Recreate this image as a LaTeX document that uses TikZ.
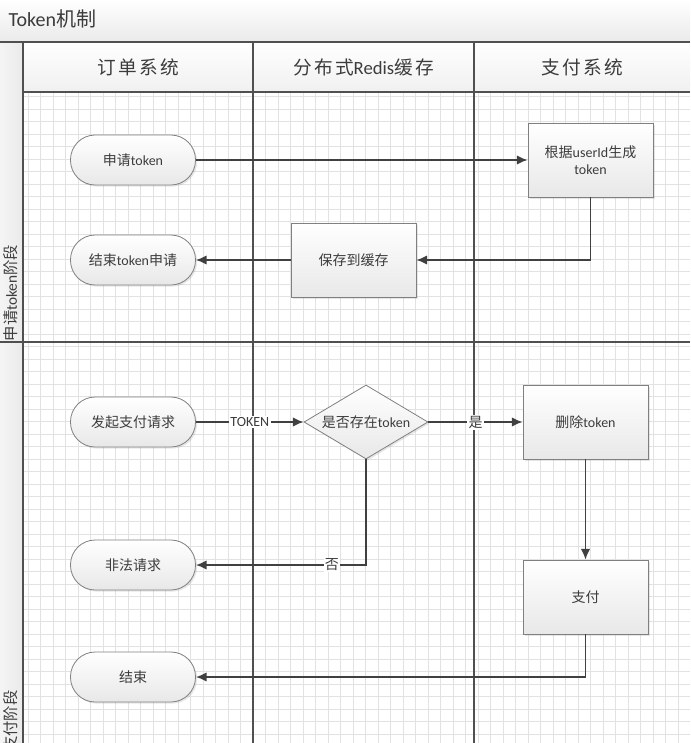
\documentclass[tikz,border=0pt]{standalone}
\usepackage{fontspec}
\setmainfont{Carlito}
\newfontfamily\cjk{Noto Sans CJK SC}
\newfontfamily\cjkwide[LetterSpace=12]{Noto Sans CJK SC}
\newcommand{\zh}[1]{{\cjk #1}}
\newcommand{\zhw}[1]{{\cjkwide #1}}
\usetikzlibrary{arrows.meta,shapes.geometric,shadows}

\definecolor{gridgray}{HTML}{E2E2E2}
\definecolor{lanegray}{HTML}{505050}
\definecolor{linegray}{HTML}{404040}
\definecolor{boxedge}{HTML}{808080}
\definecolor{textgray}{HTML}{3C3C3C}
\definecolor{fillgray}{HTML}{E8E8E8}
\definecolor{bargray}{HTML}{EAEAEA}

\tikzset{
	nodebase/.style={draw=boxedge, line width=0.6pt, top color=white, bottom color=fillgray,
		text=textgray, font=\fontsize{10.5}{12.75}\selectfont, align=center,
		drop shadow={opacity=0.2, shadow xshift=1.2pt, shadow yshift=-1.2pt}},
	terminal/.style={nodebase, rectangle, rounded corners=18.5pt, minimum width=93.75pt, minimum height=37.5pt},
	procbox/.style={nodebase, rectangle, minimum width=93.75pt, minimum height=55.5pt},
	decision/.style={nodebase, diamond, aspect=1.68, inner sep=0pt, minimum width=93pt, minimum height=55.5pt},
	flow/.style={->, draw=linegray, line width=1.2pt},
	flowlabel/.style={fill=white, inner sep=1pt, text=textgray, font=\fontsize{10.5}{12}\selectfont},
	laneline/.style={draw=lanegray, line width=1.2pt},
	gridline/.style={draw=gridgray, line width=0.5pt},
	lanehead/.style={text=textgray, font=\fontsize{14}{16}\selectfont},
	phaselabel/.style={rotate=90, text=textgray, font=\fontsize{11.5}{13}\selectfont},
}

\begin{document}
\begin{tikzpicture}[x=0.75pt,y=-0.75pt,>={Latex[length=8pt,width=7pt]}]
	\useasboundingbox (0,0) rectangle (690,743);

	% Draw the title bar, the header row and the phase strip
	\shade[top color=white, bottom color=bargray] (0,0) rectangle (690,42);
	\shade[top color=white, bottom color=bargray!70] (23,42) rectangle (690,92);
	\shade[left color=bargray!50, right color=bargray] (0,42) rectangle (23,743);

	% Draw the grid
	\foreach \gx in {28.2,40.7,...,690}
		\draw[gridline] (\gx,92) -- (\gx,743);
	\foreach \gy in {96.7,109.2,...,743}
		\draw[gridline] (23,\gy) -- (690,\gy);

	% Draw the swimlane borders
	\draw[laneline] (0,42) -- (690,42);
	\draw[laneline] (23,92) -- (690,92);
	\draw[laneline] (0,342) -- (690,342);
	\foreach \lx in {23,253,474}
		\draw[laneline] (\lx,42) -- (\lx,743);

	% Title, lane headers and phases
	\node[anchor=west, text=textgray, font=\fontsize{15}{18}\selectfont] (title) at (4,19) {Token\zh{机制}};
	\node[lanehead] (ordersys) at (138,67) {\zhw{订单系统}};
	\node[lanehead] (redis) at (363.5,67) {\zhw{分布式}Redis\zhw{缓存}};
	\node[lanehead] (paysys) at (582,67) {\zhw{支付系统}};
	\node[phaselabel] (phaseapply) at (11,293) {\zh{申请}token\zh{阶段}};
	\node[phaselabel] (phasepay) at (11,721) {\zh{支付阶段}};

	% Nodes of the token request phase
	\node[terminal] (apply) at (133,160) {\zh{申请}token};
	\node[procbox] (gen) at (590.5,160) {\zh{根据}userId\zh{生成}\\token};
	\node[procbox] (save) at (353.5,260) {\zh{保存到缓存}};
	\node[terminal] (endapply) at (133,260) {\zh{结束}token\zh{申请}};

	% Nodes of the payment phase
	\node[terminal] (pay) at (133,422) {\zh{发起支付请求}};
	\node[decision] (check) at (366,422) {\zh{是否存在}token};
	\node[procbox] (del) at (585.5,422) {\zh{删除}token};
	\node[terminal] (illegal) at (133,565) {\zh{非法请求}};
	\node[procbox] (paystep) at (585.5,597) {\zh{支付}};
	\node[terminal] (finish) at (133,677) {\zh{结束}};

	% Draw the flow
	\draw[flow] (apply) -- (gen);
	\draw[flow] (gen.south) |- (save.east);
	\draw[flow] (save) -- (endapply);
	\draw[flow] (pay) -- node[flowlabel] {TOKEN} (check);
	\draw[flow] (check) -- node[flowlabel] {\zh{是}} (del);
	\draw[flow] (check.south) |- node[flowlabel, pos=0.6] {\zh{否}} (illegal.east);
	\draw[flow] (del) -- (paystep);
	\draw[flow] (paystep.south) |- (finish.east);

\end{tikzpicture}
\end{document}
